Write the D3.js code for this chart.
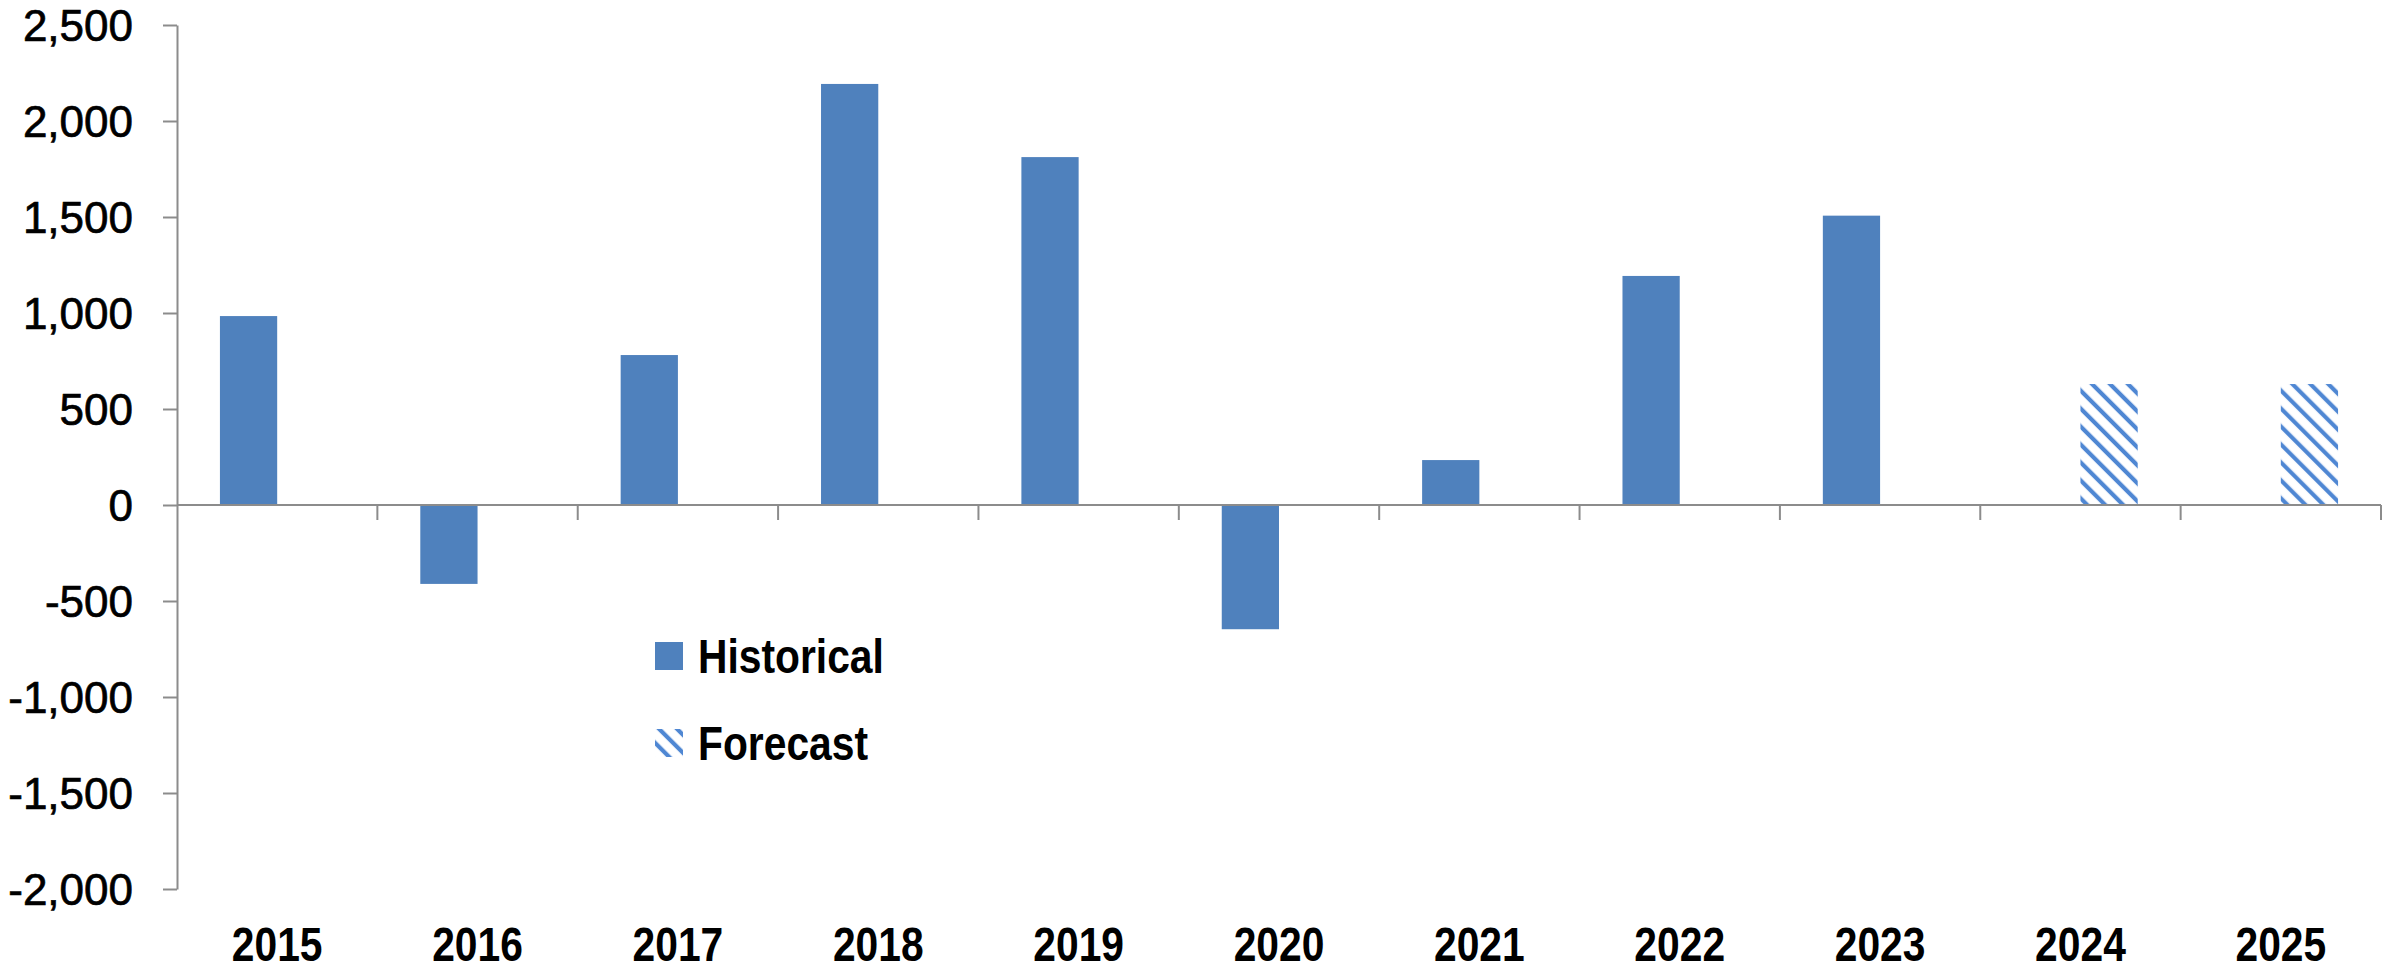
<!DOCTYPE html>
<html>
<head>
<meta charset="utf-8">
<script src="https://cdn.jsdelivr.net/npm/d3@7"></script>
<style>
  body { margin: 0; background: #fff; }
  .ylab text { font-family: "Liberation Sans", Arial, sans-serif; font-size: 44px; fill: #000; stroke: #000; stroke-width: 0.7px; }
  .narrow { font-family: "Liberation Sans", Arial, sans-serif; font-weight: bold; font-size: 48px; fill: #000; }
</style>
</head>
<body>
<div id="chart"></div>
<script>
var years = ["2015", "2016", "2017", "2018", "2019", "2020", "2021", "2022", "2023", "2024", "2025"];
var historical = [984, -411, 781, 2193, 1812, -647, 234, 1193, 1507, null, null];
var forecast = [null, null, null, null, null, null, null, null, null, 630, 630];
var seriesNames = ["Historical", "Forecast"];
var yTicks = [-2000, -1500, -1000, -500, 0, 500, 1000, 1500, 2000, 2500];

var W = 2397, H = 970;
var margin = {top: 25, right: 16, bottom: 81, left: 177};
var width = W - margin.left - margin.right,
    height = H - margin.top - margin.bottom;

var axisColor = "#8c8c8c",
    barColor = "#4f81bd",
    hatchColor = "#4f87d3",
    squeeze = 0.85; // no narrow font installed, so condense by hand

var svg = d3.select("#chart").append("svg")
    .attr("width", W)
    .attr("height", H);

// hatch for forecast bars
var pat = svg.append("defs").append("pattern")
    .attr("id", "hatch")
    .attr("patternUnits", "userSpaceOnUse")
    .attr("width", 12.7)
    .attr("height", 12.7)
    .attr("patternTransform", "rotate(-45)");
pat.append("rect").attr("width", 12.7).attr("height", 12.7).attr("fill", "#fff");
pat.append("line")
    .attr("x1", 3).attr("y1", 0).attr("x2", 3).attr("y2", 12.7)
    .attr("stroke", hatchColor)
    .attr("stroke-width", 4.2);

var g = svg.append("g")
    .attr("transform", "translate(" + margin.left + "," + margin.top + ")");

var x = d3.scaleBand().domain(years).range([0, width]).paddingInner(0).paddingOuter(0);
var xSub = d3.scaleBand().domain(seriesNames).range([0, x.bandwidth()]).paddingInner(0).paddingOuter(0.75);
var y = d3.scaleLinear().domain([-2000, 2500]).range([height, 0]);

var rows = years.map(function(yr, i) {
    return {year: yr, values: [
        {key: "Historical", value: historical[i]},
        {key: "Forecast", value: forecast[i]}
    ]};
});

// bars
var groups = g.selectAll("g.year")
    .data(rows)
    .enter().append("g")
    .attr("class", "year")
    .attr("transform", function(d) { return "translate(" + x(d.year) + ",0)"; });

groups.selectAll("rect")
    .data(function(d) { return d.values.filter(function(v) { return v.value != null; }); })
    .enter().append("rect")
    .attr("x", function(d) { return xSub(d.key); })
    .attr("width", xSub.bandwidth())
    .attr("y", function(d) { return y(Math.max(0, d.value)); })
    .attr("height", function(d) { return Math.abs(y(d.value) - y(0)); })
    .attr("fill", function(d) { return d.key === "Forecast" ? "url(#hatch)" : barColor; });

// y axis
var fmt = d3.format(",");
var yAxis = g.append("g")
    .attr("class", "ylab")
    .call(d3.axisLeft(y)
        .tickValues(yTicks)
        .tickSize(14)
        .tickSizeOuter(0)
        .tickPadding(30)
        .tickFormat(function(d) { return fmt(d).replace("\u2212", "-"); }));
yAxis.selectAll("path, line")
    .attr("stroke", axisColor)
    .attr("stroke-width", 2);
yAxis.selectAll("text").attr("dy", "0.36em");

// x axis along zero
var xAxis = g.append("g").attr("transform", "translate(0," + y(0) + ")");
xAxis.append("line")
    .attr("x1", 0).attr("x2", width)
    .attr("stroke", axisColor)
    .attr("stroke-width", 2);
xAxis.selectAll("line.tick")
    .data(years.slice(1).concat(["end"]))
    .enter().append("line")
    .attr("class", "tick")
    .attr("x1", function(d) { return d === "end" ? width : x(d); })
    .attr("x2", function(d) { return d === "end" ? width : x(d); })
    .attr("y1", 0).attr("y2", 15)
    .attr("stroke", axisColor)
    .attr("stroke-width", 2);

g.selectAll("text.year")
    .data(years)
    .enter().append("text")
    .attr("class", "narrow year")
    .attr("transform", function(d) {
        return "translate(" + (x(d) + x.bandwidth() / 2) + "," + (961 - margin.top) + ")scale(" + squeeze + ",1)";
    })
    .attr("text-anchor", "middle")
    .text(function(d) { return d; });

// legend
var legend = svg.append("g").attr("transform", "translate(655,642)");
var item = legend.selectAll("g")
    .data(seriesNames)
    .enter().append("g")
    .attr("transform", function(d, i) { return "translate(0," + i * 87 + ")"; });
item.append("rect")
    .attr("width", 28).attr("height", 28)
    .attr("fill", function(d) { return d === "Forecast" ? "url(#hatch)" : barColor; });
item.append("text")
    .attr("class", "narrow")
    .attr("transform", "translate(43,31)scale(" + squeeze + ",1)")
    .text(function(d) { return d; });
</script>
</body>
</html>
